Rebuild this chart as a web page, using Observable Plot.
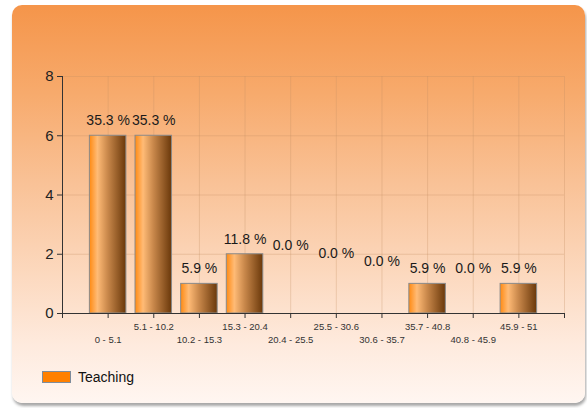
<!DOCTYPE html>
<html>
<head>
<meta charset="utf-8">
<script src="https://cdn.jsdelivr.net/npm/d3@7"></script>
<script src="https://cdn.jsdelivr.net/npm/@observablehq/plot@0.6"></script>
<style>
  html, body { margin: 0; padding: 0; background: #ffffff; }
  #wrap { position: relative; width: 587px; height: 408px; overflow: hidden; font-family: "Liberation Sans", Arial, sans-serif; }
  #card {
    position: absolute; left: 12px; top: 5px; width: 573px; height: 398px;
    border-radius: 10px;
    background: linear-gradient(to bottom, #f5954a 0%, #f7aa6c 22%, #f9c297 45%, #fcd9bf 68%, #feeadd 85%, #fff6f1 100%);
    box-shadow: 1px 3px 3px rgba(0,0,0,0.35);
  }
  #chart { position: absolute; left: 0; top: 0; }
  #legend { position: absolute; left: 42px; top: 369px; display: flex; align-items: center; }
  #legend .sw { width: 27px; height: 10px; background: #ff8000; border: 1px solid #7e8c9c; }
  #legend .lb { margin-left: 7px; font-size: 14px; color: #111; }
</style>
</head>
<body>
<div id="wrap">
  <div id="card"></div>
  <div id="chart"></div>
  <div id="legend"><div class="sw"></div><div class="lb" id="legendText"></div></div>
</div>
<script>
// ---- data ----
const categories = ["0 - 5.1", "5.1 - 10.2", "10.2 - 15.3", "15.3 - 20.4", "20.4 - 25.5",
                    "25.5 - 30.6", "30.6 - 35.7", "35.7 - 40.8", "40.8 - 45.9", "45.9 - 51"];
const counts = [6, 6, 1, 2, 0, 0, 0, 1, 0, 1];
const yTicks = [0, 2, 4, 6, 8];
const seriesName = "Teaching";

// ---- derived table ----
const total = d3.sum(counts);
const rows = categories.map((c, i) => ({
  cat: c, idx: i + 1, count: counts[i],
  label: (counts[i] / total * 100).toFixed(1) + " %"
}));

// label nudges (px) used by the original to keep zero-value labels apart
const labelLift = [0, 0, 0, 0, -52.5, -45, -36.5, 0, -29.5, 0];

const font = "'Liberation Sans', Arial, sans-serif";
const gridStroke = "#c58e63";

const marks = [
  Plot.gridY(yTicks.filter(v => v > 0), {stroke: gridStroke, strokeOpacity: 0.3}),
  Plot.gridX(d3.range(1, categories.length + 2), {stroke: gridStroke, strokeOpacity: 0.3}),
  Plot.rectY(rows.filter(d => d.count > 0), {
    x1: d => d.idx - 0.4, x2: d => d.idx + 0.4, y1: 0, y2: "count",
    fill: "url(#barGrad)", stroke: "#8a8a8a", strokeWidth: 1
  }),
  Plot.ruleY([0], {stroke: "#333"}),
  Plot.ruleX([0], {stroke: "#333"}),
  Plot.axisX({ticks: d3.range(0, categories.length + 2), tickSize: 5, tickFormat: () => "", stroke: "#333", label: null}),
  Plot.axisY({ticks: yTicks, tickSize: 5, tickPadding: 4, fontSize: 15, fill: "#222", stroke: "#333", label: null}),
  Plot.text(rows.filter(d => d.idx % 2 === 0), {x: "idx", y: 0, text: "cat", dy: 13.5, fontSize: 9.5, fill: "#333", lineAnchor: "middle"}),
  Plot.text(rows.filter(d => d.idx % 2 === 1), {x: "idx", y: 0, text: "cat", dy: 26.5, fontSize: 9.5, fill: "#333", lineAnchor: "middle"}),
  ...rows.map((d, i) => Plot.text([d], {
    x: "idx", y: "count", text: "label", dy: -15 + labelLift[i],
    fontSize: 14, fill: "#1a1a1a", lineAnchor: "middle"
  }))
];

const chart = Plot.plot({
  width: 587, height: 360,
  marginLeft: 62, marginRight: 23, marginTop: 76, marginBottom: 47,
  style: {background: "transparent", fontFamily: font, color: "#222", overflow: "visible"},
  x: {type: "linear", domain: [0, categories.length + 1], axis: null, label: null},
  y: {domain: [0, 8], axis: null, label: null},
  marks
});

d3.select(chart).insert("defs", ":first-child").html(`
  <linearGradient id="barGrad" x1="0" y1="0" x2="1" y2="0">
    <stop offset="0" stop-color="#ff8a12"/>
    <stop offset="0.22" stop-color="#ffbb76"/>
    <stop offset="0.5" stop-color="#c9884b"/>
    <stop offset="1" stop-color="#6a380a"/>
  </linearGradient>`);

document.getElementById("chart").appendChild(chart);
document.getElementById("legendText").textContent = seriesName;
</script>
</body>
</html>
